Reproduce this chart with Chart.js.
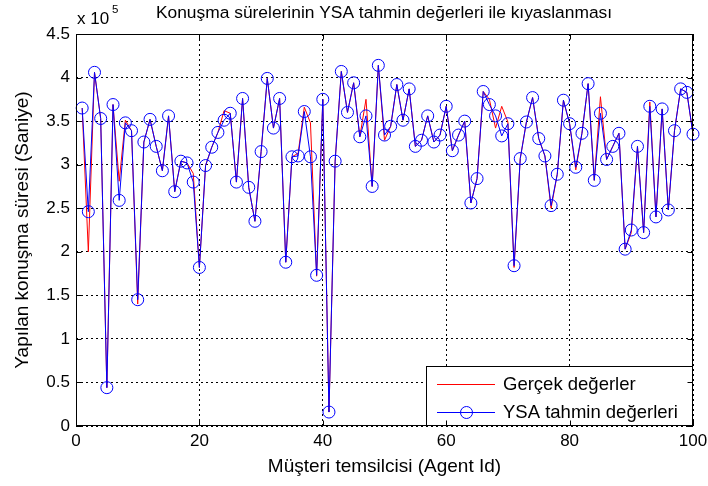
<!DOCTYPE html>
<html><head><meta charset="utf-8">
<script src="https://cdn.jsdelivr.net/npm/chart.js@4.4.1/dist/chart.umd.min.js"></script>
<style>html,body{margin:0;padding:0;background:#fff;}canvas{display:block;}</style>
</head><body>
<canvas id="c" width="708" height="486"></canvas>
<script>
const agentIds = [1,2,3,4,5,6,7,8,9,10,11,12,13,14,15,16,17,18,19,20,21,22,23,24,25,26,27,28,29,30,31,32,33,34,35,36,37,38,39,40,41,42,43,44,45,46,47,48,49,50,51,52,53,54,55,56,57,58,59,60,61,62,63,64,65,66,67,68,69,70,71,72,73,74,75,76,77,78,79,80,81,82,83,84,85,86,87,88,89,90,91,92,93,94,95,96,97,98,99,100];
const actualValues = [365000,200000,406000,353000,44000,369000,281000,351000,339000,140000,326000,352000,321000,293000,356000,269000,304000,302000,290000,182000,299000,320000,337000,362000,359000,280000,376000,274000,235000,315000,399000,342000,376000,188000,309000,313000,366000,348000,172000,375000,16000,304000,407000,360000,394000,332000,375000,275000,414000,328000,344000,392000,351000,387000,321000,328000,356000,326000,334000,367000,316000,334000,350000,256000,284000,384000,375000,342000,367000,349000,182000,307000,349000,377000,330000,310000,250000,289000,374000,347000,294000,336000,393000,282000,378000,306000,321000,336000,203000,222000,321000,222000,372000,240000,364000,248000,339000,387000,383000,335000];
const predictedValues = [365000,246000,406000,353000,44000,369000,259000,348000,339000,145000,326000,352000,321000,293000,356000,269000,304000,302000,280000,182000,299000,320000,337000,351000,359000,280000,376000,274000,235000,315000,399000,342000,376000,188000,309000,310000,361000,309000,173000,375000,16000,304000,407000,360000,394000,332000,356000,275000,414000,334000,344000,392000,351000,387000,321000,328000,356000,326000,334000,367000,316000,334000,350000,256000,284000,384000,369000,356000,333000,347000,184000,307000,349000,377000,330000,310000,253000,289000,374000,347000,297000,336000,393000,282000,359000,306000,321000,336000,203000,225000,321000,222000,367000,240000,364000,248000,339000,387000,383000,335000];
const xTicks = [0,20,40,60,80,100];
const yTicks = [0,50000,100000,150000,200000,250000,300000,350000,400000,450000];
const seriesLabels = ['Gerçek değerler','YSA tahmin değerleri'];
const titleText = 'Konuşma sürelerinin YSA tahmin değerleri ile kıyaslanması';
const xTitle = 'Müşteri temsilcisi (Agent Id)';
const yTitle = 'Yapılan konuşma süresi (Saniye)';

const FONT = '"Liberation Sans", Arial, sans-serif';
const toPts = vals => agentIds.map((id, i) => ({x: id, y: vals[i]}));

const frame = {
  id: 'frame',
  afterDraw(chart) {
    const {ctx, chartArea: a, scales: {x, y}} = chart;
    ctx.save();
    const L = Math.round(a.left) + 0.5, R = Math.round(a.right) - 0.5;
    const T = Math.round(a.top) + 0.5, B = Math.round(a.bottom) - 0.5;
    // legend
    const lx0 = 426.5, ly0 = 366.5, lx1 = R, ly1 = B;
    ctx.fillStyle = '#fff';
    ctx.fillRect(lx0, ly0, lx1 - lx0, ly1 - ly0);
    ctx.strokeStyle = '#000'; ctx.lineWidth = 1;
    ctx.strokeRect(lx0, ly0, lx1 - lx0, ly1 - ly0);
    const ds = chart.data.datasets;
    const rows = [384, 412];
    ctx.font = '18.5px ' + FONT;
    ctx.textBaseline = 'middle'; ctx.textAlign = 'left';
    ds.forEach((d, i) => {
      const yy = rows[i] + 0.5;
      ctx.strokeStyle = d.borderColor; ctx.lineWidth = 1;
      ctx.beginPath(); ctx.moveTo(437, yy); ctx.lineTo(495, yy); ctx.stroke();
      if (d.pointRadius > 0) {
        ctx.beginPath(); ctx.arc(466.5, yy, d.pointRadius, 0, Math.PI * 2); ctx.stroke();
      }
      ctx.fillStyle = '#000';
      ctx.fillText(d.label, 503, rows[i] + 1);
    });
    // box
    ctx.strokeStyle = '#000'; ctx.lineWidth = 1;
    ctx.strokeRect(L, T, R - L, B - T);
    // inward ticks
    ctx.beginPath();
    xTicks.forEach(v => {
      const px = Math.round(x.getPixelForValue(v)) + 0.5;
      ctx.moveTo(px, B); ctx.lineTo(px, B - 5);
      ctx.moveTo(px, T); ctx.lineTo(px, T + 5);
    });
    yTicks.forEach(v => {
      const py = Math.round(y.getPixelForValue(v)) + 0.5;
      ctx.moveTo(L, py); ctx.lineTo(L + 5, py);
      ctx.moveTo(R, py); ctx.lineTo(R - 5, py);
    });
    ctx.stroke();
    // title and exponent
    ctx.fillStyle = '#000';
    ctx.textAlign = 'center'; ctx.textBaseline = 'middle';
    ctx.font = '17.4px ' + FONT;
    ctx.fillText(titleText, 384, 13);
    ctx.textAlign = 'left';
    ctx.font = '17px ' + FONT;
    ctx.fillText('x 10', 77, 19);
    ctx.font = '11.5px ' + FONT;
    ctx.fillText('5', 112, 10);
    ctx.restore();
  }
};

new Chart(document.getElementById('c'), {
  type: 'line',
  data: {
    datasets: [
      {label: seriesLabels[0], data: toPts(actualValues), borderColor: '#ff0000', backgroundColor: '#ff0000', borderWidth: 1, pointRadius: 0, tension: 0, order: 2, clip: false},
      {label: seriesLabels[1], data: toPts(predictedValues), borderColor: '#0000ff', backgroundColor: 'rgba(0,0,0,0)', borderWidth: 1, pointRadius: 6, pointBorderWidth: 1, pointBackgroundColor: 'rgba(0,0,0,0)', pointBorderColor: '#0000ff', tension: 0, order: 1, clip: false}
    ]
  },
  options: {
    responsive: false, animation: false, devicePixelRatio: 1,
    layout: {padding: {left: 0, right: 15, top: 34, bottom: 0}},
    plugins: {legend: {display: false}, tooltip: {enabled: false}, title: {display: false}},
    scales: {
      x: {
        type: 'linear', position: 'bottom', min: 0, max: 100,
        afterBuildTicks: s => { s.ticks = xTicks.map(v => ({value: v})); },
        afterFit: s => { s.height = 60; s.paddingLeft = 0; s.paddingRight = 0; },
        grid: {color: '#000', lineWidth: 1, drawTicks: false},
        border: {display: false, dash: [2, 3]},
        ticks: {padding: 5, color: '#000', font: {family: FONT, size: 17}, maxRotation: 0, callback: v => String(v)},
        title: {display: true, text: xTitle, color: '#000', font: {family: FONT, size: 19}, padding: {top: 0, bottom: 8}}
      },
      y: {
        type: 'linear', position: 'left', min: 0, max: 450000,
        afterBuildTicks: s => { s.ticks = yTicks.map(v => ({value: v})); },
        afterFit: s => { s.width = 76; s.paddingTop = 0; s.paddingBottom = 0; },
        grid: {color: '#000', lineWidth: 1, drawTicks: false},
        border: {display: false, dash: [2, 3]},
        ticks: {padding: 6, color: '#000', font: {family: FONT, size: 17}, callback: v => String(v / 100000)},
        title: {display: true, text: yTitle, color: '#000', font: {family: FONT, size: 19}, padding: {top: 11, bottom: 0}}
      }
    }
  },
  plugins: [frame]
});
</script>
</body></html>
